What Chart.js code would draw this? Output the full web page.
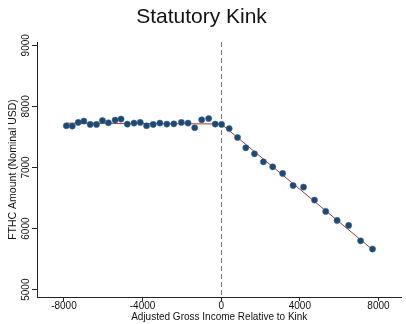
<!DOCTYPE html>
<html>
<head>
<meta charset="utf-8">
<script src="https://cdn.jsdelivr.net/npm/chart.js@4.4.1/dist/chart.umd.min.js"></script>
<style>
  body { margin: 0; background: #fff; }
  canvas { display: block; }
</style>
</head>
<body>
<canvas id="chartKink" width="406" height="324"></canvas>
<script>
// binned means, income relative to kink (USD) and FTHC amount
const binX = [-7878, -7575, -7271, -6987, -6663, -6344, -6041, -5737, -5397, -5094,
              -4775, -4435, -4116, -3797, -3458, -3119, -2765, -2410, -2025, -1686,
              -1347, -992, -638, -304, 20,
              405, 830, 1251, 1691, 2147, 2618, 3124, 3656, 4187, 4744,
              5316, 5894, 6481, 7089, 7696];
const binY = [7683, 7678, 7737, 7759, 7704, 7704, 7769, 7732, 7776, 7792,
              7710, 7727, 7737, 7683, 7704, 7727, 7710, 7715, 7737, 7727,
              7650, 7781, 7802, 7710, 7704,
              7638, 7491, 7322, 7224, 7093, 7011, 6902, 6705, 6679, 6467,
              6280, 6133, 6051, 5800, 5665];

// linear fits on each side of the kink
const fitLeftX = [-7878, 0];
const fitLeftY = [7726, 7712];
const fitRightX = [0, 7696];
const fitRightY = [7712, 5655];

const xTicks = [-8000, -4000, 0, 4000, 8000];
const yTicks = [5000, 6000, 7000, 8000, 9000];
const kinkAt = 0;

const toPoints = (xs, ys) => xs.map((x, i) => ({ x: x, y: ys[i] }));

const axisColor = '#222';
const tickFont = { family: 'Liberation Sans, Arial, sans-serif', size: 10 };

// dashed line at the kink + rotated y tick labels
const kinkPlugin = {
    id: 'kinkExtras',
    beforeDatasetsDraw(chart) {
        const { ctx, chartArea, scales } = chart;
        const px = scales.x.getPixelForValue(kinkAt);
        ctx.save();
        ctx.strokeStyle = '#7a7a7a';
        ctx.lineWidth = 1;
        ctx.setLineDash([5, 3]);
        ctx.beginPath();
        ctx.moveTo(Math.round(px) + 0.5, chartArea.top);
        ctx.lineTo(Math.round(px) + 0.5, chartArea.bottom);
        ctx.stroke();
        ctx.restore();
    },
    afterDraw(chart) {
        const { ctx, scales } = chart;
        ctx.save();
        ctx.fillStyle = '#111';
        ctx.font = '10px "Liberation Sans", Arial, sans-serif';
        ctx.textAlign = 'center';
        ctx.textBaseline = 'middle';
        yTicks.forEach(v => {
            const py = scales.y.getPixelForValue(v);
            ctx.save();
            ctx.translate(26, py);
            ctx.rotate(-Math.PI / 2);
            ctx.fillText(String(v), 0, 0);
            ctx.restore();
        });
        ctx.restore();
    }
};

const ctx = document.getElementById('chartKink').getContext('2d');
new Chart(ctx, {
    type: 'scatter',
    data: {
        datasets: [
            {
                data: toPoints(fitLeftX, fitLeftY),
                showLine: true,
                borderColor: '#a8363a',
                borderWidth: 1,
                pointRadius: 0,
                order: 2
            },
            {
                data: toPoints(fitRightX, fitRightY),
                showLine: true,
                borderColor: '#a8363a',
                borderWidth: 1,
                pointRadius: 0,
                order: 2
            },
            {
                data: toPoints(binX, binY),
                backgroundColor: '#1c4a74',
                borderColor: '#3a6790',
                borderWidth: 0.5,
                pointRadius: 3.1,
                order: 1
            }
        ]
    },
    options: {
        responsive: false,
        animation: false,
        layout: { padding: { left: 0, right: 3, top: 0, bottom: 0 } },
        plugins: {
            legend: { display: false },
            tooltip: { enabled: false },
            title: {
                display: true,
                text: 'Statutory Kink',
                color: '#111',
                font: { family: 'Liberation Sans, Arial, sans-serif', size: 21, weight: 'normal' },
                padding: { top: 4.4, bottom: 12.4 }
            }
        },
        scales: {
            x: {
                type: 'linear',
                min: -9370,
                max: 9170,
                afterBuildTicks: scale => { scale.ticks = xTicks.map(v => ({ value: v })); },
                afterFit: scale => { scale.height = 27; },
                grid: { drawOnChartArea: false, tickLength: 4, tickColor: axisColor },
                border: { color: axisColor, width: 1 },
                ticks: {
                    color: '#111', font: tickFont, padding: -1, maxRotation: 0,
                    callback: v => String(v)
                },
                title: {
                    display: true,
                    text: 'Adjusted Gross Income Relative to Kink',
                    color: '#111',
                    font: { family: 'Liberation Sans, Arial, sans-serif', size: 10 },
                    padding: { top: 0, bottom: 0.5 }
                }
            },
            y: {
                type: 'linear',
                min: 4880,
                max: 9054,
                afterBuildTicks: scale => { scale.ticks = yTicks.map(v => ({ value: v })); },
                afterFit: scale => { scale.width = 37; },
                grid: { drawOnChartArea: false, tickLength: 5, tickColor: axisColor },
                border: { color: axisColor, width: 1 },
                ticks: { display: false },
                title: {
                    display: true,
                    text: 'FTHC Amount (Nominal USD)',
                    color: '#111',
                    font: { family: 'Liberation Sans, Arial, sans-serif', size: 10.5 },
                    padding: { top: 7, bottom: 0 }
                }
            }
        }
    },
    plugins: [kinkPlugin]
});
</script>
</body>
</html>
